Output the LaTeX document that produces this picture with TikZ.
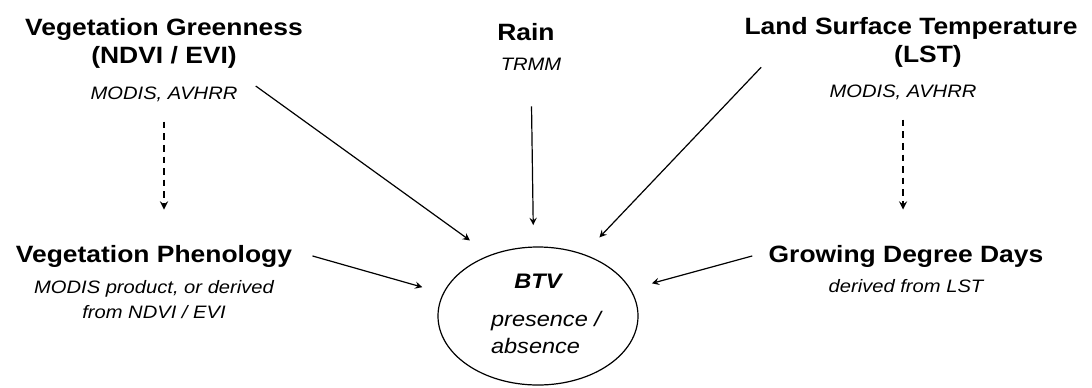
\documentclass[tikz,border=0pt]{standalone}
\usepackage{fontspec}
\setmainfont{Liberation Sans}[FakeStretch=1.12]
\usepackage{tikz}
\usetikzlibrary{shapes.geometric, arrows, positioning}
\tikzstyle{factor} = [inner sep=0pt, align=center, font=\bfseries\fontsize{11.8}{14}\selectfont]
\tikzstyle{dataset} = [inner sep=0pt, align=center, font=\itshape\fontsize{9}{12.5}\selectfont]
\tikzstyle{outcome} = [ellipse, draw=black, semithick, inner sep=0pt, outer sep=11pt, minimum width=100pt, minimum height=69pt, font=\itshape\fontsize{10.5}{13.5}\selectfont]
\tikzstyle{feeds} = [semithick,->,>=stealth]
\tikzstyle{derives} = [thick,->,>=stealth, dash pattern=on 3.3pt off 2.5pt]

\begin{document}
\begin{tikzpicture}[x=0.5pt, y=-0.5pt]
            \useasboundingbox (0,0) rectangle (1092,387);
            % Nodes
            \node (vgtitle) [factor, anchor=base] at (164,63) {Vegetation Greenness\\(NDVI / EVI)};
            \node (vgsrc) [dataset, below=18pt of vgtitle.base, anchor=base] {MODIS, AVHRR};
            \node (raintitle) [factor, anchor=base] at (526,40) {Rain};
            \node (rainsrc) [dataset, below=15pt of raintitle.base, anchor=base, xshift=2.5pt] {TRMM};
            \node (lsttitle) [factor, anchor=base] at (911,62) {Land Surface Temperature\\\hspace*{17pt}(LST)};
            \node (lstsrc) [dataset, below=17.5pt of lsttitle.base, anchor=base, xshift=-4pt] {MODIS, AVHRR};

            \node (vptitle) [factor, anchor=base] at (154,262) {Vegetation Phenology};
            \node (vpsrc) [dataset, below=28pt of vptitle.base, anchor=base] {MODIS product, or derived\\from NDVI / EVI};
            \node (gddtitle) [factor, anchor=base] at (906,262) {Growing Degree Days};
            \node (gddsrc) [dataset, below=15pt of gddtitle.base, anchor=base] {derived from LST};

            \node (btv) [outcome] at (538,316) {\begin{tabular}{@{\hspace{8pt}}l@{}}\multicolumn{1}{@{}c@{}}{\bfseries BTV}\\[5.5pt]presence /\\absence\end{tabular}};

            % Edges
            \draw [feeds] ([xshift=9pt]vgsrc.north east) -- (btv.132);
            \draw [feeds, shorten <=18pt] (rainsrc.south) -- (btv.93);
            \draw [feeds] ([xshift=8.5pt]lsttitle.south west) -- (btv.52);
            \draw [feeds] ([xshift=10pt]vptitle.east) -- (btv.166);
            \draw [feeds] ([xshift=-8pt]gddtitle.west) -- (btv.16);
            \draw [derives, shorten <=10pt, shorten >=17.5pt] (vgsrc.south) -- (vgsrc.south |- vptitle.north);
            \draw [derives, shorten <=10pt, shorten >=17.5pt] (lstsrc.south) -- (lstsrc.south |- gddtitle.north);
        \end{tikzpicture}
\end{document}
